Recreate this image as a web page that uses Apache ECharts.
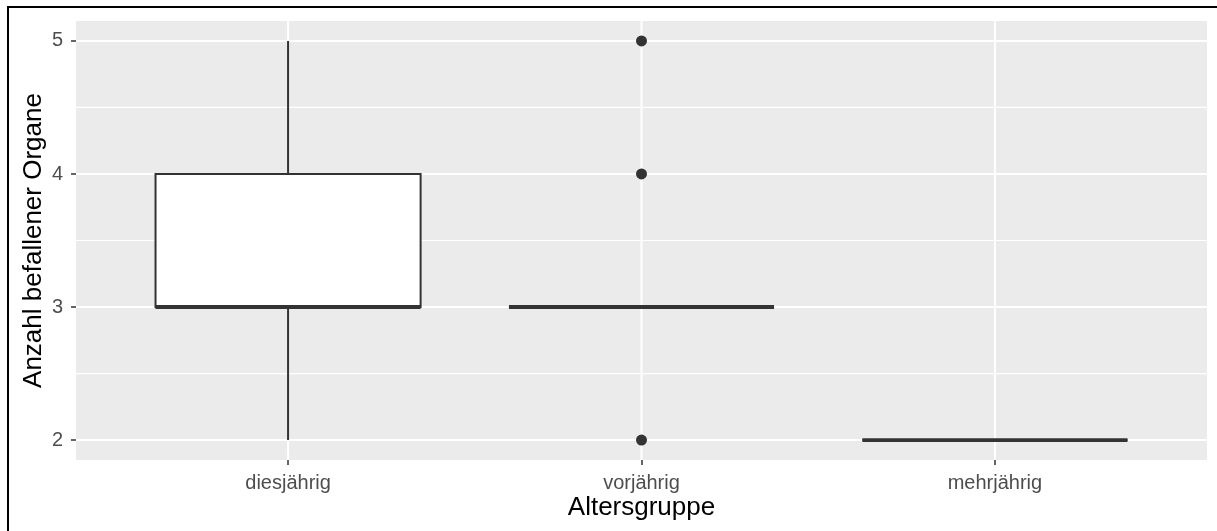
<!DOCTYPE html>
<html>
<head>
<meta charset="utf-8">
<script src="https://cdn.jsdelivr.net/npm/echarts@6/dist/echarts.min.js"></script>
<style>
html,body{margin:0;padding:0;background:#fff;}
#chart{width:1217px;height:531px;}
</style>
</head>
<body>
<div id="chart"></div>
<script>
// ---- data ----
var categories = ['diesjährig', 'vorjährig', 'mehrjährig'];
var boxMin    = [2, 3, 2];
var boxQ1     = [3, 3, 2];
var boxMedian = [3, 3, 2];
var boxQ3     = [4, 3, 2];
var boxMax    = [5, 3, 2];
var outlierCategory = [2, 2, 2];   // 1-based category position
var outlierValue    = [5, 4, 2];
var yTicks = [2, 3, 4, 5];
var yMinorTicks = [2.5, 3.5, 4.5];
var xTicks = [1, 2, 3];

// ---- build ----
var boxData = categories.map(function (c, i) {
  return [i + 1, boxMin[i], boxQ1[i], boxMedian[i], boxQ3[i], boxMax[i]];
});
var outlierData = outlierValue.map(function (v, i) { return [outlierCategory[i], v]; });
var gridLineData = [];
yMinorTicks.forEach(function (v) { gridLineData.push([0, v]); });
yTicks.forEach(function (v) { gridLineData.push([1, v]); });
xTicks.forEach(function (v) { gridLineData.push([2, v]); });

var XMIN = 0.4, XMAX = 3.6, YMIN = 1.85, YMAX = 5.15;
var FONT = 'Liberation Sans, Arial, sans-serif';
var chart = echarts.init(document.getElementById('chart'));
chart.setOption({
  animation: false,
  backgroundColor: '#ffffff',
  graphic: [{
    type: 'polyline',
    shape: { points: [[8, 531], [8, 7], [1217, 7]] },
    style: { stroke: '#000', lineWidth: 2, fill: null },
    z: 100
  }],
  grid: {
    left: 76, right: 10, top: 21, bottom: 71,
    show: true, backgroundColor: '#EBEBEB', borderWidth: 0
  },
  xAxis: {
    type: 'value', min: XMIN, max: XMAX,
    axisLine: { show: false },
    splitLine: { show: false },
    axisTick: { show: true, customValues: xTicks, length: 5, lineStyle: { color: '#333333', width: 1.5 } },
    axisLabel: {
      customValues: xTicks, color: '#4D4D4D', fontSize: 20, fontFamily: FONT, margin: 13,
      formatter: function (v) { return categories[Math.round(v) - 1] || ''; }
    },
    name: 'Altersgruppe', nameLocation: 'middle', nameGap: 35, nameMoveOverlap: false,
    nameTextStyle: { color: '#000', fontSize: 26, fontFamily: FONT }
  },
  yAxis: {
    type: 'value', min: YMIN, max: YMAX,
    axisLine: { show: false },
    splitLine: { show: false },
    axisTick: { show: true, customValues: yTicks, length: 5, lineStyle: { color: '#333333', width: 1.5 } },
    axisLabel: { customValues: yTicks, color: '#4D4D4D', fontSize: 20, fontFamily: FONT, margin: 13 },
    name: 'Anzahl befallener Organe', nameLocation: 'middle', nameGap: 29, nameRotate: 90, nameMoveOverlap: false,
    nameTextStyle: { color: '#000', fontSize: 26, fontFamily: FONT }
  },
  series: [
    {
      type: 'custom', name: 'grid', silent: true, z: 1,
      data: gridLineData,
      renderItem: function (params, api) {
        var kind = api.value(0), v = api.value(1);
        var p1, p2, w;
        if (kind === 2) {
          p1 = api.coord([v, YMIN]); p2 = api.coord([v, YMAX]); w = 2;
        } else {
          p1 = api.coord([XMIN, v]); p2 = api.coord([XMAX, v]); w = kind === 1 ? 2 : 1.2;
        }
        return { type: 'line', shape: { x1: p1[0], y1: p1[1], x2: p2[0], y2: p2[1] },
                 style: { stroke: '#ffffff', lineWidth: w } };
      }
    },
    {
      type: 'custom', name: 'box', z: 3,
      data: boxData,
      renderItem: function (params, api) {
        var x = api.value(0);
        var pMin = api.coord([x, api.value(1)]);
        var pQ1 = api.coord([x, api.value(2)]);
        var pMed = api.coord([x, api.value(3)]);
        var pQ3 = api.coord([x, api.value(4)]);
        var pMax = api.coord([x, api.value(5)]);
        var hw = api.size([0.75, 0])[0] / 2;
        var col = '#333333';
        return {
          type: 'group',
          children: [
            { type: 'line', shape: { x1: pQ3[0], y1: pQ3[1], x2: pMax[0], y2: pMax[1] }, style: { stroke: col, lineWidth: 2 } },
            { type: 'line', shape: { x1: pMin[0], y1: pMin[1], x2: pQ1[0], y2: pQ1[1] }, style: { stroke: col, lineWidth: 2 } },
            { type: 'rect', shape: { x: pQ3[0] - hw, y: pQ3[1], width: hw * 2, height: pQ1[1] - pQ3[1] },
              style: { fill: '#ffffff', stroke: col, lineWidth: 2 } },
            { type: 'line', shape: { x1: pMed[0] - hw, y1: pMed[1], x2: pMed[0] + hw, y2: pMed[1] },
              style: { stroke: col, lineWidth: 3.8, lineCap: 'butt' } }
          ]
        };
      }
    },
    {
      type: 'scatter', name: 'outliers', z: 4,
      data: outlierData, symbol: 'circle', symbolSize: 11,
      itemStyle: { color: '#333333', opacity: 1 }
    }
  ]
});
</script>
</body>
</html>
